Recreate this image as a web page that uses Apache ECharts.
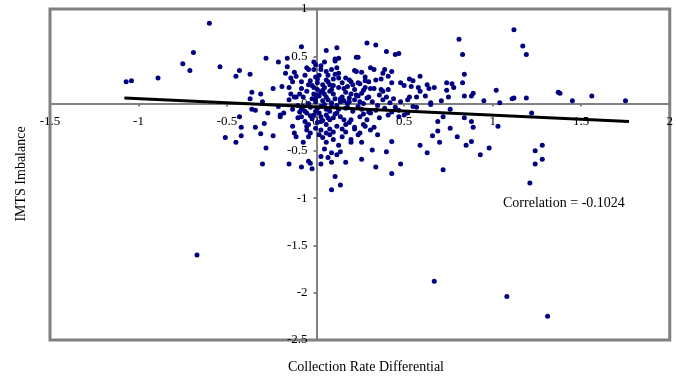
<!DOCTYPE html>
<html>
<head>
<meta charset="utf-8">
<script src="https://cdn.jsdelivr.net/npm/echarts@6.0.0/dist/echarts.min.js"></script>
<style>
  html, body { margin: 0; padding: 0; background: #fff; }
  #chart { width: 676px; height: 378px; }
</style>
</head>
<body>
<div id="chart"></div>
<script>
// collection rate differential (x) and IMTS imbalance (y), same order
const rateDiff = [
  -1.07, -1.04, -0.89, -0.60, -0.69, -0.75, -0.71, -0.54, -0.43, -0.45, -0.37, -0.28, -0.21, -0.16, -0.08,
  -0.36, -0.31, -0.37, -0.30, -0.24, -0.19, -0.36, -0.34, -0.27, -0.21, -0.18, -0.43, -0.42, -0.51, -0.45,
  -0.42, -0.34, -0.29, -0.31, -0.24, -0.28, -0.30, -0.15, -0.08, -0.02, -0.03, 0.03, 0.09, -0.11, -0.07,
  -0.04, -0.10, -0.13, -0.20, -0.11, -0.15, -0.13, -0.17, -0.12, -0.08, -0.04, 0.00, 0.06, 0.12, -0.67,
  0.09, 0.14, 0.67, 1.08, 1.31, 1.21, 1.12, 1.17, 1.19, 0.81, 0.83, 0.84, 0.83, 0.84, 0.89,
  0.88, 0.95, 1.02, 1.04, 1.11, 1.12, 1.19, 1.22, 1.37, 1.38, 1.45, 1.56, 1.75, 1.03, 0.98,
  0.93, 0.85, 0.88, 0.89, 0.88, 0.84, 0.80, 0.76, 0.72, 0.76, 0.72, 0.70, 0.66, 0.69, 0.63,
  0.59, 1.28, 1.24, 1.28, 1.24, 0.48, 0.43, 0.34, 0.26, 0.40, 0.32, 0.43, 0.11, 0.07, 0.09,
  0.55, 0.57, 0.69,
  0.29, 0.34, 0.40, 0.45, 0.47, 0.24, 0.13, 0.11, 0.33, 0.26, 0.22, 0.39, 0.43, 0.38, 0.41,
  0.37, 0.34, 0.53, 0.59, 0.48, 0.50, 0.54, 0.58, 0.63, 0.67, 0.64, 0.74, 0.77, 0.78, 0.74,
  0.52, 0.53, 0.57, 0.62, 0.65, 0.71, 0.75, 0.31, 0.33, 0.27, 0.25, 0.30, 0.37, 0.28, 0.59,
  0.55, 0.43, 0.38, 0.41, 0.17, 0.20, 0.07, 0.24, 0.04, 0.09, 0.03, 0.10, 0.15, 0.20, 0.30,
  0.65,
  -0.16, -0.14, -0.15, -0.14, -0.11, -0.05, -0.01, -0.04, -0.05, -0.01, 0.01, 0.01, 0.03, 0.06, 0.06,
  0.06, 0.08, 0.09, 0.11, 0.12, 0.13, 0.13, 0.14, 0.19, 0.22, 0.23, 0.23, 0.28, 0.29, 0.31,
  0.25, 0.19, -0.07, -0.12,
  -0.02, 0.00, 0.02, 0.04, 0.05, 0.07, 0.09, 0.11, 0.12, 0.16, 0.18, 0.22, 0.24, 0.27, 0.32,
  0.35, 0.38, 0.42, 0.45, 0.48, -0.04, -0.07, 0.01, 0.03, 0.06, 0.08, 0.13, 0.17, 0.21, 0.26,
  0.30, 0.34, 0.39, 0.43, 0.47, 0.50, -0.01, 0.01, -0.03, 0.00, 0.02, 0.08, 0.10, 0.15, 0.17,
  0.18, -0.08, -0.06, -0.09, 0.05,
  -0.05, -0.01, 0.03, 0.06, 0.10, 0.14, 0.20, 0.25, 0.29, -0.04, 0.01, 0.06, 0.12, 0.17, 0.22,
  0.27, -0.12, 0.04, 0.08, 0.10, 0.15, 0.20, 0.24, 0.12, 0.03, -0.04, 0.17,
  0.08, 0.06, 0.10, 0.17, 0.22, 0.25, 0.28, 0.33, 0.35, 0.31, 0.41, 0.47, 0.52, 0.06, 0.13,
  0.14, 0.20, 0.26, 0.05,
  -0.20, -0.13, -0.08, -0.05, -0.03,
  -0.10, -0.08, -0.03, 0.00, 0.02, -0.02, 0.04, 0.08, 0.00, 0.03, -0.06,
  -0.02, 0.01, 0.04, 0.07, 0.10, 0.13, 0.16, 0.19, 0.21, 0.23, 0.26, 0.28, -0.06, -0.03, 0.00,
  0.03, 0.05, 0.09, 0.11, 0.14, 0.16, 0.19, 0.24, 0.36, 0.40, 0.44, -0.09, -0.05, 0.02, 0.07,
  0.12, 0.15, 0.18, 0.27, 0.31, 0.36, 0.03, 0.11, -0.01, 0.05
]
const imbalance = [
  0.23, 0.24, 0.27, 0.85, 0.54, 0.42, 0.35, 0.39, 0.35, 0.29, 0.31, 0.48, 0.44, 0.48, 0.60,
  0.12, 0.10, 0.05, 0.02, 0.16, 0.18, -0.06, -0.07, -0.10, -0.03, -0.10, -0.14, -0.25, -0.36, -0.41,
  -0.34, -0.25, -0.21, -0.32, -0.34, -0.47, -0.64, -0.64, -0.67, -0.69, -0.63, -0.64, -0.62, -0.35, -0.41,
  -0.35, -0.15, -0.24, -0.14, 0.07, 0.04, 0.23, 0.32, 0.33, 0.23, 0.36, 0.41, 0.56, 0.59, -1.60,
  -0.91, -0.86, -1.88, -2.04, -2.25, -0.84, 0.78, 0.61, 0.52, 0.68, 0.52, 0.31, 0.22, 0.08, 0.11,
  0.08, 0.03, 0.14, 0.01, 0.05, 0.06, 0.06, -0.10, 0.12, 0.11, 0.03, 0.08, 0.03, -0.24, -0.47,
  -0.54, -0.44, -0.40, -0.25, -0.19, -0.15, -0.35, -0.26, -0.70, -0.06, -0.14, -0.41, -0.34, -0.29, -0.52,
  -0.44, -0.44, -0.50, -0.59, -0.64, -0.64, -0.74, -0.67, -0.59, -0.51, -0.49, -0.40, -0.77, -0.57, -0.52,
  -0.03, -0.04, -0.19,
  0.64, 0.62, 0.55, 0.52, 0.53, 0.49, 0.48, 0.45, 0.36, 0.33, 0.35, 0.36, 0.34, 0.32, 0.29,
  0.26, 0.25, 0.26, 0.29, 0.22, 0.19, 0.18, 0.17, 0.20, 0.17, 0.16, 0.22, 0.21, 0.17, 0.14,
  0.04, 0.07, 0.07, 0.08, 0.01, 0.03, 0.07, 0.16, 0.16, 0.14, 0.21, 0.23, 0.15, 0.24, 0.13,
  0.24, 0.22, 0.13, 0.15, 0.27, 0.23, 0.23, 0.22, 0.20, 0.15, 0.12, 0.10, 0.07, 0.10, 0.07,
  -0.01,
  0.39, 0.27, 0.17, 0.10, 0.29, 0.38, 0.36, 0.20, 0.13, 0.17, 0.22, 0.09, 0.36, 0.34, 0.25,
  0.07, 0.13, 0.36, 0.47, 0.38, 0.27, 0.17, 0.05, 0.25, 0.15, 0.49, 0.34, 0.17, 0.06, 0.38,
  0.02, 0.02, 0.07, 0.07,
  0.05, 0.02, 0.08, 0.03, -0.01, 0.04, 0.01, 0.05, -0.02, 0.03, 0.00, 0.04, -0.03, 0.00, 0.02,
  -0.02, 0.04, 0.01, -0.04, 0.02, 0.00, -0.03, -0.05, -0.03, -0.06, -0.08, -0.06, -0.05, -0.08, -0.06,
  -0.09, -0.07, -0.05, -0.09, -0.07, -0.12, 0.10, 0.15, 0.24, 0.28, 0.30, 0.20, 0.26, 0.22, 0.12,
  0.18, 0.16, 0.30, 0.10, 0.10,
  -0.10, -0.12, -0.14, -0.12, -0.15, -0.14, -0.17, -0.14, -0.17, -0.22, -0.20, -0.22, -0.24, -0.22, -0.25,
  -0.22, -0.31, -0.36, -0.33, -0.38, -0.35, -0.38, -0.33, -0.54, -0.56, -0.61, -0.62,
  -0.27, -0.31, -0.30, -0.30, -0.27, -0.31, -0.24, -0.25, -0.33, -0.10, -0.12, -0.14, -0.10, -0.41, -0.44,
  -0.51, -0.41, -0.41, -0.48,
  -0.12, -0.06, -0.14, -0.24, -0.31,
  -0.02, -0.06, -0.04, -0.08, -0.10, -0.16, -0.18, -0.17, -0.26, -0.28, -0.19,
  0.19, 0.26, 0.14, 0.30, 0.19, 0.32, 0.16, 0.06, 0.20, 0.09, 0.11, 0.28, -0.08, -0.13, 0.06,
  -0.19, 0.17, -0.03, -0.11, 0.02, -0.17, -0.20, 0.08, 0.09, 0.07, 0.05, -0.09, -0.28, -0.33, -0.15,
  -0.10, -0.27, -0.04, -0.11, -0.28, -0.15, 0.40, 0.31, 0.44, 0.44
]

// fitted trend line end points
const trendX = [-1.08, 1.77]
const trendY = [0.06, -0.19]

const correlationText = 'Correlation = -0.1024'

const points = rateDiff.map((x, i) => [x, imbalance[i]])
const trend = trendX.map((x, i) => [x, trendY[i]])

const serif = '"Liberation Serif", "DejaVu Serif", serif'
const gray = '#808080'

const W = 676, H = 378
const grid = { left: 50, right: 4, top: 9, bottom: 38 }
const xMin = -1.5, xMax = 2, yMin = -2.5, yMax = 1

// axes cross at zero: shift them in from the grid edges
const plotW = W - grid.left - grid.right
const plotH = H - grid.top - grid.bottom
const yAxisOffset = -plotW * (0 - xMin) / (xMax - xMin)
const xAxisOffset = -plotH * (0 - yMin) / (yMax - yMin)

const chart = echarts.init(document.getElementById('chart'))
chart.setOption({
  animation: false,
  grid: {
    ...grid,
    show: true, borderColor: gray, borderWidth: 3,
  },
  xAxis: {
    type: 'value',
    min: xMin, max: xMax, interval: 0.5,
    offset: xAxisOffset,
    axisLine: { onZero: false, lineStyle: { color: gray, width: 2 } },
    axisTick: { show: true, length: 3, lineStyle: { color: gray, width: 2 } },
    axisLabel: { color: '#000', fontFamily: serif, fontSize: 13, margin: 12 },
    splitLine: { show: false },
  },
  yAxis: {
    type: 'value',
    min: yMin, max: yMax, interval: 0.5,
    offset: yAxisOffset,
    axisLine: { onZero: false, lineStyle: { color: gray, width: 2 } },
    axisTick: { show: true, length: 3, lineStyle: { color: gray, width: 2 } },
    axisLabel: { color: '#000', fontFamily: serif, fontSize: 13, margin: 9 },
    splitLine: { show: false },
  },
  series: [
    {
      type: 'scatter',
      data: points,
      symbol: 'circle',
      symbolSize: 5,
      itemStyle: { color: '#000080', opacity: 1 },
      z: 3,
    },
    {
      type: 'line',
      data: trend,
      symbol: 'none',
      lineStyle: { color: '#000', width: 3 },
      z: 4,
    },
  ],
  graphic: [
    {
      type: 'text', x: 21, y: 174, rotation: Math.PI / 2,
      style: { text: 'IMTS Imbalance', font: '14px ' + serif, fill: '#000', align: 'center', verticalAlign: 'middle' },
    },
    {
      type: 'text', x: 366, y: 367,
      style: { text: 'Collection Rate Differential', font: '14px ' + serif, fill: '#000', align: 'center', verticalAlign: 'middle' },
    },
    {
      type: 'text', x: 503, y: 203,
      style: { text: correlationText, font: '14px ' + serif, fill: '#000', align: 'left', verticalAlign: 'middle' },
    },
  ],
})
</script>
</body>
</html>
